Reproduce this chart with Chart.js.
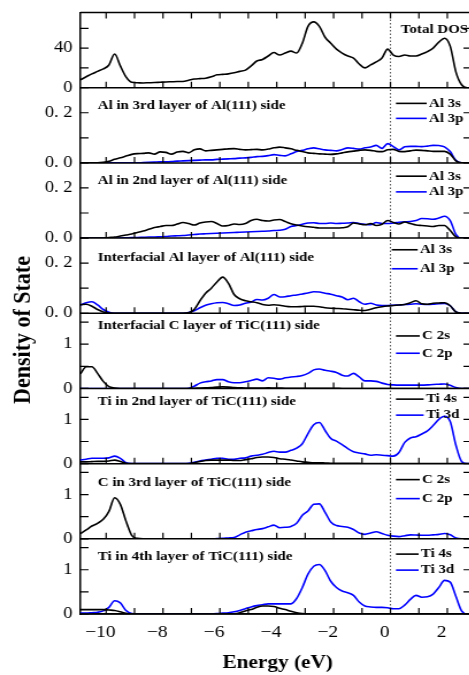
<!DOCTYPE html>
<html>
<head>
<meta charset="utf-8">
<script src="https://cdn.jsdelivr.net/npm/chart.js@4.4.1/dist/chart.umd.min.js"></script>
<style>
  html, body { margin: 0; padding: 0; background: #fff; overflow: hidden; }
  #wrap { width: 469px; height: 675px; overflow: hidden; }
  /* the original figure is stretched sideways, so is this one */
  #c { transform: scaleX(1.15); transform-origin: 0 0; }
</style>
</head>
<body>
<div id="wrap"><canvas id="c" width="420" height="675"></canvas></div>
<script>
// energy grid (eV)
var energy = [
  -10.9, -10.7, -10.5, -10.3, -10.1, -9.9, -9.7, -9.5, -9.3, -9.1,
  -8.9, -8.7, -8.5, -8.3, -8.1, -7.9, -7.7, -7.5, -7.3, -7.1,
  -6.9, -6.7, -6.5, -6.3, -6.1, -5.9, -5.7, -5.5, -5.3, -5.1,
  -4.9, -4.7, -4.5, -4.3, -4.1, -3.9, -3.7, -3.5, -3.3, -3.1,
  -2.9, -2.7, -2.5, -2.3, -2.1, -1.9, -1.7, -1.5, -1.3, -1.1,
  -0.9, -0.7, -0.5, -0.3, -0.1, 0.1, 0.3, 0.5, 0.7, 0.9,
  1.1, 1.3, 1.5, 1.7, 1.9, 2.1, 2.3, 2.5, 2.7, 2.9
];

var totalDos = [
  8, 11, 14, 16.5, 19, 23, 34, 22, 11, 5.5,
  5, 4.8, 5, 5.2, 5.5, 5.8, 6, 6.2, 6.3, 7.5,
  8.8, 9.2, 9.6, 11, 13, 13.5, 14, 15, 16.5, 17.8,
  22, 27, 28.5, 32, 35.5, 33, 35, 37, 35, 45,
  62, 66.5, 62, 51, 45, 39, 35, 32, 30, 24,
  20, 23, 26, 30, 39, 33, 31.5, 33, 32, 32,
  34, 36.5, 40, 46, 50, 42, 16, 3, 0, 0
];

// Al in 3rd layer
var al3s_L3 = [
  0, 0, 0, 0, 0.002, 0.006, 0.014, 0.02, 0.027, 0.034,
  0.037, 0.038, 0.04, 0.035, 0.044, 0.042, 0.035, 0.043, 0.046, 0.04,
  0.052, 0.056, 0.048, 0.05, 0.052, 0.054, 0.056, 0.057, 0.054, 0.052,
  0.053, 0.054, 0.052, 0.055, 0.06, 0.063, 0.06, 0.056, 0.05, 0.045,
  0.04, 0.038, 0.036, 0.035, 0.034, 0.036, 0.04, 0.044, 0.047, 0.05,
  0.052, 0.05, 0.046, 0.045, 0.052, 0.054, 0.046, 0.045, 0.048, 0.051,
  0.05, 0.048, 0.046, 0.046, 0.046, 0.035, 0.008, 0, 0, 0
];
var al3p_L3 = [
  0, 0, 0, 0, 0, 0, 0, 0, 0, 0,
  0, 0.001, 0.002, 0.003, 0.004, 0.004, 0.005, 0.007, 0.008, 0.009,
  0.01, 0.011, 0.012, 0.012, 0.014, 0.015, 0.016, 0.017, 0.019, 0.02,
  0.022, 0.025, 0.026, 0.029, 0.033, 0.03, 0.028, 0.036, 0.045, 0.05,
  0.056, 0.06, 0.056, 0.052, 0.05, 0.048, 0.053, 0.06, 0.058, 0.055,
  0.06, 0.063, 0.07, 0.058, 0.077, 0.065, 0.052, 0.064, 0.066, 0.066,
  0.065, 0.067, 0.07, 0.069, 0.064, 0.045, 0.01, 0, 0, 0
];

// Al in 2nd layer
var al3s_L2 = [
  0, 0, 0, 0, 0, 0.002, 0.004, 0.008, 0.012, 0.016,
  0.022, 0.028, 0.035, 0.042, 0.046, 0.05, 0.05, 0.056, 0.062, 0.058,
  0.052, 0.06, 0.064, 0.066, 0.058, 0.048, 0.05, 0.056, 0.054, 0.058,
  0.07, 0.075, 0.07, 0.068, 0.072, 0.074, 0.066, 0.057, 0.052, 0.048,
  0.045, 0.043, 0.04, 0.04, 0.04, 0.04, 0.041, 0.045, 0.06, 0.056,
  0.053, 0.058, 0.05, 0.055, 0.07, 0.062, 0.056, 0.064, 0.058, 0.052,
  0.05, 0.048, 0.046, 0.05, 0.05, 0.03, 0.005, 0, 0, 0
];
var al3p_L2 = [
  0, 0, 0, 0, 0, 0, 0, 0, 0.001, 0.002,
  0.002, 0.003, 0.004, 0.004, 0.005, 0.006, 0.008, 0.009, 0.01, 0.012,
  0.014, 0.016, 0.017, 0.018, 0.019, 0.02, 0.021, 0.022, 0.023, 0.024,
  0.025, 0.026, 0.027, 0.028, 0.03, 0.031, 0.035, 0.046, 0.05, 0.055,
  0.06, 0.061, 0.058, 0.058, 0.06, 0.058, 0.059, 0.06, 0.062, 0.058,
  0.055, 0.053, 0.062, 0.058, 0.058, 0.06, 0.063, 0.065, 0.066, 0.07,
  0.078, 0.077, 0.075, 0.08, 0.087, 0.07, 0.015, 0, 0, 0
];

// interfacial Al layer
var al3s_If = [
  0.034, 0.036, 0.028, 0.015, 0.005, 0.001, 0, 0, 0, 0,
  0, 0, 0, 0, 0, 0, 0, 0, 0, 0.002,
  0.015, 0.05, 0.08, 0.1, 0.125, 0.144, 0.12, 0.075, 0.058, 0.05,
  0.046, 0.042, 0.035, 0.032, 0.034, 0.032, 0.028, 0.026, 0.026, 0.027,
  0.028, 0.028, 0.026, 0.022, 0.02, 0.019, 0.018, 0.016, 0.014, 0.012,
  0.011, 0.016, 0.022, 0.026, 0.029, 0.031, 0.033, 0.035, 0.042, 0.05,
  0.038, 0.036, 0.04, 0.041, 0.042, 0.03, 0.005, 0, 0, 0
];
var al3p_If = [
  0.033, 0.042, 0.046, 0.033, 0.015, 0.004, 0, 0, 0, 0,
  0, 0, 0, 0, 0, 0, 0, 0, 0, 0.003,
  0.01, 0.022, 0.032, 0.038, 0.042, 0.043, 0.038, 0.031, 0.033, 0.04,
  0.045, 0.055, 0.053, 0.06, 0.075, 0.065, 0.066, 0.07, 0.073, 0.077,
  0.081, 0.086, 0.085, 0.08, 0.076, 0.07, 0.065, 0.054, 0.06, 0.046,
  0.036, 0.04, 0.033, 0.031, 0.031, 0.032, 0.033, 0.035, 0.036, 0.038,
  0.036, 0.035, 0.036, 0.038, 0.039, 0.03, 0.005, 0, 0, 0
];

// interfacial C layer
var c2s_If = [
  0.33, 0.49, 0.49, 0.34, 0.16, 0.04, 0.01, 0, 0, 0,
  0, 0, 0, 0, 0, 0, 0, 0, 0, 0,
  0.005, 0.01, 0.015, 0.02, 0.03, 0.035, 0.03, 0.02, 0.015, 0.01,
  0.008, 0.008, 0.01, 0.012, 0.01, 0.008, 0.005, 0.005, 0.005, 0.005,
  0.005, 0.005, 0.005, 0.005, 0.005, 0.005, 0, 0, 0, 0,
  0, 0, 0, 0, 0, 0, 0, 0, 0, 0,
  0, 0, 0, 0, 0, 0, 0, 0, 0, 0
];
var c2p_If = [
  0, 0, 0, 0, 0, 0, 0, 0, 0, 0,
  0, 0, 0, 0, 0, 0, 0, 0, 0, 0.005,
  0.05, 0.12, 0.15, 0.17, 0.2, 0.2, 0.15, 0.13, 0.13, 0.15,
  0.18, 0.21, 0.17, 0.24, 0.23, 0.21, 0.24, 0.26, 0.27, 0.29,
  0.34, 0.42, 0.44, 0.41, 0.39, 0.36, 0.3, 0.28, 0.34, 0.26,
  0.17, 0.17, 0.16, 0.12, 0.09, 0.08, 0.075, 0.075, 0.075, 0.075,
  0.075, 0.08, 0.09, 0.095, 0.1, 0.07, 0.02, 0, 0, 0
];

// Ti in 2nd layer
var ti4s_L2 = [
  0.04, 0.04, 0.045, 0.05, 0.05, 0.06, 0.08, 0.05, 0.01, 0,
  0, 0, 0, 0, 0, 0, 0, 0, 0, 0,
  0.02, 0.05, 0.07, 0.08, 0.08, 0.08, 0.08, 0.07, 0.07, 0.09,
  0.11, 0.14, 0.15, 0.15, 0.14, 0.11, 0.1, 0.08, 0.06, 0.04,
  0.03, 0.02, 0.02, 0.015, 0.01, 0.005, 0.005, 0.005, 0.005, 0.005,
  0, 0, 0, 0, 0, 0, 0, 0, 0, 0,
  0, 0, 0, 0, 0, 0, 0, 0, 0, 0
];
var ti3d_L2 = [
  0.08, 0.1, 0.12, 0.12, 0.12, 0.13, 0.17, 0.12, 0.02, 0,
  0, 0, 0, 0, 0, 0, 0, 0, 0, 0.005,
  0.03, 0.06, 0.08, 0.1, 0.12, 0.12, 0.1, 0.1, 0.12, 0.13,
  0.17, 0.19, 0.21, 0.25, 0.28, 0.26, 0.26, 0.3, 0.35, 0.45,
  0.68, 0.88, 0.93, 0.75, 0.57, 0.51, 0.43, 0.34, 0.27, 0.24,
  0.22, 0.19, 0.2, 0.19, 0.18, 0.17, 0.25, 0.48, 0.58, 0.61,
  0.67, 0.74, 0.86, 1.0, 1.07, 0.95, 0.42, 0.05, 0, 0
];

// C in 3rd layer
var c2s_L3 = [
  0.12, 0.2, 0.29, 0.35, 0.44, 0.62, 0.93, 0.78, 0.4, 0.08,
  0.01, 0, 0, 0, 0, 0, 0, 0, 0, 0,
  0, 0, 0, 0, 0, 0, 0, 0, 0, 0,
  0, 0, 0, 0, 0, 0, 0, 0, 0, 0,
  0, 0, 0, 0, 0, 0, 0, 0, 0, 0,
  0, 0, 0, 0, 0, 0, 0, 0, 0, 0,
  0, 0, 0, 0, 0, 0, 0, 0, 0, 0
];
var c2p_L3 = [
  0, 0, 0, 0, 0, 0, 0, 0, 0, 0,
  0, 0, 0, 0, 0, 0, 0, 0, 0, 0,
  0, 0, 0, 0, 0.005, 0.01, 0.02, 0.03, 0.09, 0.15,
  0.18, 0.21, 0.23, 0.27, 0.31, 0.25, 0.26, 0.28, 0.35, 0.53,
  0.63, 0.78, 0.79, 0.6, 0.38, 0.3, 0.28, 0.26, 0.21, 0.13,
  0.1, 0.13, 0.16, 0.12, 0.08, 0.06, 0.05, 0.07, 0.09, 0.085,
  0.08, 0.08, 0.09, 0.1, 0.12, 0.09, 0.02, 0, 0, 0
];

// Ti in 4th layer
var ti4s_L4 = [
  0.1, 0.1, 0.1, 0.1, 0.1, 0.09, 0.08, 0.05, 0.015, 0,
  0, 0, 0, 0, 0, 0, 0, 0, 0, 0,
  0, 0, 0, 0, 0, 0, 0, 0.005, 0.03, 0.07,
  0.1, 0.15, 0.18, 0.18, 0.17, 0.13, 0.1, 0.06, 0.03, 0.01,
  0.005, 0.005, 0.005, 0.005, 0.005, 0.005, 0, 0, 0, 0,
  0, 0, 0, 0, 0, 0, 0, 0, 0, 0,
  0, 0, 0, 0, 0, 0, 0, 0, 0, 0
];
var ti3d_L4 = [
  0.02, 0.02, 0.03, 0.04, 0.07, 0.15, 0.3, 0.25, 0.08, 0.01,
  0, 0, 0, 0, 0, 0, 0, 0, 0, 0,
  0, 0, 0, 0.005, 0.01, 0.02, 0.03, 0.05, 0.08, 0.12,
  0.16, 0.19, 0.21, 0.23, 0.23, 0.23, 0.23, 0.23, 0.35, 0.6,
  0.9, 1.08, 1.12, 0.98, 0.74, 0.6, 0.52, 0.48, 0.42, 0.27,
  0.18, 0.16, 0.15, 0.15, 0.14, 0.12, 0.12, 0.2, 0.33, 0.42,
  0.38, 0.39, 0.45, 0.6, 0.76, 0.72, 0.4, 0.07, 0, 0
];

var panelTitles = [
  'Total DOS',
  'Al in 3rd layer of Al(111) side',
  'Al in 2nd layer of Al(111) side',
  'Interfacial Al layer of Al(111) side',
  'Interfacial C layer of TiC(111) side',
  'Ti in 2nd layer of TiC(111) side',
  'C in 3rd layer of TiC(111) side',
  'Ti in 4th layer of TiC(111) side'
];
var legendNames = [
  [],
  ['Al 3s', 'Al 3p'],
  ['Al 3s', 'Al 3p'],
  ['Al 3s', 'Al 3p'],
  ['C 2s', 'C 2p'],
  ['Ti 4s', 'Ti 3d'],
  ['C 2s', 'C 2p'],
  ['Ti 4s', 'Ti 3d']
];
var panelSeries = [
  [totalDos],
  [al3s_L3, al3p_L3],
  [al3s_L2, al3p_L2],
  [al3s_If, al3p_If],
  [c2s_If, c2p_If],
  [ti4s_L2, ti3d_L2],
  [c2s_L3, c2p_L3],
  [ti4s_L4, ti3d_L4]
];

var yMax = [76, 0.3, 0.3, 0.3, 1.7, 1.7, 1.7, 1.7];
var yTicks = [
  [0, 20, 40, 60],
  [0, 0.1, 0.2], [0, 0.1, 0.2], [0, 0.1, 0.2],
  [0, 0.5, 1, 1.5], [0, 0.5, 1, 1.5], [0, 0.5, 1, 1.5], [0, 0.5, 1, 1.5]
];
var yLabeled = [[0, 40], [0, 0.2], [0, 0.2], [0, 0.2], [0, 1], [0, 1], [0, 1], [0, 1]];
var xTicks = [-10, -9, -8, -7, -6, -5, -4, -3, -2, -1, 0, 1, 2];
var xLabeled = [-10, -8, -6, -4, -2, 0, 2];
var fermiLevel = 0;

// styling / placement (canvas px)
var lineColors = ['#000000', '#0000ff'];
var titleDy = [17.5, 17.7, 18, 20, 12.7, 13.4, 19.4, 18];
var legendLayout = [
  null,
  { lineX: -65.7, textX: -37, rows: [15.7, 30.7] },
  { lineX: -65.7, textX: -37, rows: [13.3, 29] },
  { lineX: -69.4, textX: -44.8, rows: [11.7, 30.7] },
  { lineX: -65.7, textX: -43, rows: [22.7, 40] },
  { lineX: -65.7, textX: -39.6, rows: [10.7, 26.7] },
  { lineX: -65.7, textX: -43, rows: [16, 35] },
  { lineX: -65.7, textX: -44, rows: [15.3, 31.3] }
];
var serif = '"Liberation Serif", "Times New Roman", serif';

Chart.defaults.font.family = serif;
Chart.defaults.color = '#000';

var datasets = [];
panelSeries.forEach(function (list, p) {
  list.forEach(function (vals, k) {
    datasets.push({
      label: p === 0 ? panelTitles[0] : legendNames[p][k],
      data: energy.map(function (e, i) { return { x: e, y: vals[i] }; }),
      yAxisID: 'y' + p,
      borderColor: lineColors[k],
      borderWidth: 1.6,
      pointRadius: 0,
      cubicInterpolationMode: 'monotone',
      fill: false
    });
  });
});

var scales = {
  x: {
    type: 'linear',
    position: 'bottom',
    min: -10.9,
    max: 2.85,
    grid: { display: false, drawTicks: false },
    border: { display: true, color: '#000', width: 1.5 },
    afterBuildTicks: function (s) { s.ticks = xTicks.map(function (v) { return { value: v }; }); },
    afterFit: function (s) { s.height = 61; },
    ticks: {
      autoSkip: false, maxRotation: 0, padding: 8, labelOffset: -5,
      color: '#000', font: { size: 17 },
      callback: function (v) {
        if (xLabeled.indexOf(v) < 0) return '';
        return v < 0 ? '\u2212' + Math.abs(v) : String(v);
      }
    }
  }
};

panelTitles.forEach(function (t, p) {
  scales['y' + p] = {
    type: 'linear',
    position: 'left',
    stack: 'dos',
    stackWeight: 1,
    weight: 8 - p,
    min: 0,
    max: yMax[p],
    grid: { display: false, drawTicks: false },
    border: { display: true, color: '#000', width: 1.5 },
    afterBuildTicks: function (s) { s.ticks = yLabeled[p].map(function (v) { return { value: v }; }); },
    afterFit: function (s) { s.width = 70; },
    ticks: {
      autoSkip: false, padding: 7, color: '#000',
      font: { size: 16, lineHeight: 0.6 },
      callback: function (v) {
        return (p >= 1 && p <= 3) ? v.toFixed(1).replace('.', '. ') : String(v);
      }
    }
  };
});

var panelFrame = {
  id: 'panelFrame',
  beforeDatasetsDraw: function (chart) {
    var ctx = chart.ctx, area = chart.chartArea;
    var fx = chart.scales.x.getPixelForValue(fermiLevel);
    ctx.save();
    ctx.strokeStyle = '#555';
    ctx.lineWidth = 1;
    ctx.setLineDash([1.5, 2]);
    ctx.beginPath();
    ctx.moveTo(fx, area.top);
    ctx.lineTo(fx, area.bottom);
    ctx.stroke();
    ctx.restore();
  },
  afterDraw: function (chart) {
    var ctx = chart.ctx, area = chart.chartArea, xs = chart.scales.x;
    ctx.save();
    ctx.strokeStyle = '#000';
    ctx.fillStyle = '#000';
    ctx.lineWidth = 1.5;
    ctx.beginPath();
    ctx.moveTo(area.left, area.top);
    ctx.lineTo(area.right, area.top);
    ctx.lineTo(area.right, area.bottom);
    ctx.stroke();

    panelTitles.forEach(function (title, p) {
      var ys = chart.scales['y' + p];
      var bottom = ys.getPixelForValue(0);

      ctx.lineWidth = 1.5;
      ctx.beginPath();
      ctx.moveTo(area.left, bottom);
      ctx.lineTo(area.right, bottom);
      ctx.stroke();

      // inward ticks
      ctx.lineWidth = 1.2;
      ctx.beginPath();
      xTicks.forEach(function (v) {
        var px = xs.getPixelForValue(v);
        ctx.moveTo(px, bottom);
        ctx.lineTo(px, bottom - 6);
        if (p === 0) {
          ctx.moveTo(px, area.top);
          ctx.lineTo(px, area.top + 6);
        }
      });
      yTicks[p].forEach(function (v) {
        var py = ys.getPixelForValue(v);
        ctx.moveTo(area.left, py);
        ctx.lineTo(area.left + 7, py);
        ctx.moveTo(area.right, py);
        ctx.lineTo(area.right - 7, py);
      });
      ctx.stroke();

      // panel title
      ctx.font = 'bold 13px ' + serif;
      ctx.textBaseline = 'middle';
      if (p === 0) {
        ctx.textAlign = 'right';
        ctx.fillText(title, area.right - 3, ys.top + titleDy[p]);
      } else {
        ctx.textAlign = 'left';
        ctx.fillText(title, area.left + 15, ys.top + titleDy[p]);
      }

      // legend
      var lg = legendLayout[p];
      if (lg) {
        legendNames[p].forEach(function (name, k) {
          var ly = ys.top + lg.rows[k];
          ctx.strokeStyle = lineColors[k];
          ctx.lineWidth = 1.6;
          ctx.beginPath();
          ctx.moveTo(area.right + lg.lineX, ly);
          ctx.lineTo(area.right + lg.textX - 2, ly);
          ctx.stroke();
          ctx.fillStyle = '#000';
          ctx.textAlign = 'left';
          ctx.fillText(name, area.right + lg.textX, ly);
        });
        ctx.strokeStyle = '#000';
      }
    });

    // axis titles
    ctx.fillStyle = '#000';
    ctx.font = 'bold 18.5px ' + serif;
    ctx.textAlign = 'center';
    ctx.textBaseline = 'alphabetic';
    ctx.fillText('Energy (eV)', (area.left + area.right) / 2 + 1.5, 668);

    ctx.save();
    ctx.translate(20.4, 330);
    ctx.rotate(-Math.PI / 2);
    ctx.font = 'bold 22px ' + serif;
    ctx.textBaseline = 'middle';
    ctx.fillText('Density of State', 0, 0);
    ctx.restore();

    ctx.restore();
  }
};

var chart = new Chart(document.getElementById('c').getContext('2d'), {
  type: 'line',
  data: { datasets: datasets },
  options: {
    responsive: false,
    animation: false,
    events: [],
    layout: { padding: { top: 12.5, right: 10, bottom: 0, left: 0 } },
    plugins: { legend: { display: false }, tooltip: { enabled: false } },
    scales: scales
  },
  plugins: [panelFrame]
});
</script>
</body>
</html>
